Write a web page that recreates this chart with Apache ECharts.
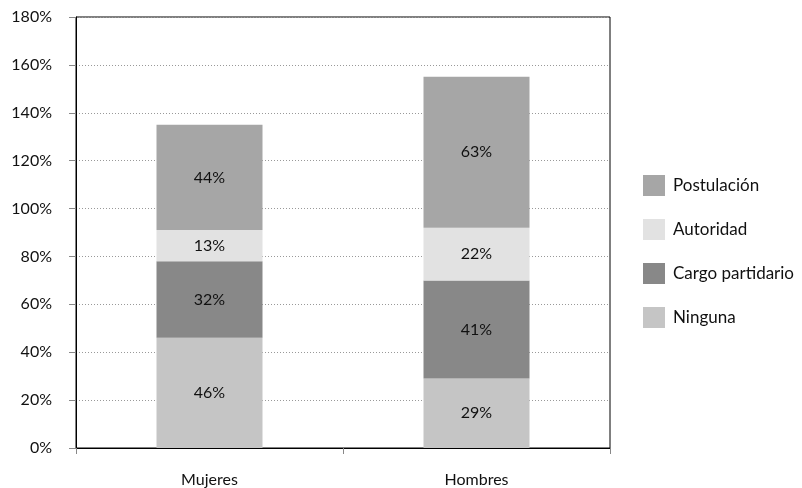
<!DOCTYPE html>
<html>
<head>
<meta charset="utf-8">
<script src="https://cdn.jsdelivr.net/npm/echarts@6/dist/echarts.min.js"></script>
<style>
  html, body { margin: 0; padding: 0; background: #fff; }
  #chart { width: 802px; height: 488px; }
</style>
</head>
<body>
<div id="chart"></div>
<script>
// Categories and stacked percentages (bottom to top)
const categories = ['Mujeres', 'Hombres'];
const ninguna = [46, 29];
const cargoPartidario = [32, 41];
const autoridad = [13, 22];
const postulacion = [44, 63];
const yTicks = [0, 20, 40, 60, 80, 100, 120, 140, 160, 180];

const FONT = 'Lato, "Open Sans", sans-serif';

function seg(name, data, color) {
  return {
    name: name,
    type: 'bar',
    stack: 'total',
    data: data,
    barWidth: 106,
    itemStyle: { color: color },
    label: {
      show: true,
      position: 'inside',
      formatter: p => p.value + '%',
      color: '#111',
      fontFamily: FONT,
      fontSize: 16
    }
  };
}

const chart = echarts.init(document.getElementById('chart'), null, { renderer: 'canvas' });
chart.setOption({
  animation: false,
  grid: {
    left: 76, right: 192, top: 17, bottom: 39,
    show: true, borderColor: '#000', borderWidth: 1, backgroundColor: 'transparent'
  },
  legend: {
    orient: 'vertical',
    left: 643,
    top: 175,
    padding: 0,
    itemWidth: 22,
    itemHeight: 21,
    itemGap: 23,
    icon: 'rect',
    data: ['Postulación', 'Autoridad', 'Cargo partidario', 'Ninguna'],
    textStyle: { fontFamily: FONT, fontSize: 17, color: '#111', padding: [0, 0, 0, 3] }
  },
  xAxis: {
    type: 'category',
    data: categories,
    axisLine: { lineStyle: { color: '#000', width: 1 } },
    axisTick: { show: true, length: 6, lineStyle: { color: '#888' } },
    axisLabel: { fontFamily: FONT, fontSize: 16, color: '#111', margin: 24 }
  },
  yAxis: {
    type: 'value',
    min: yTicks[0],
    max: yTicks[yTicks.length - 1],
    interval: 20,
    axisLine: { show: true, lineStyle: { color: '#000', width: 1 } },
    axisTick: { show: true, length: 7, lineStyle: { color: '#888' } },
    axisLabel: { fontFamily: FONT, fontSize: 16, color: '#111', margin: 24, formatter: v => v + '%' },
    splitLine: { show: true, lineStyle: { color: '#999', type: [1, 2], width: 1 } }
  },
  series: [
    seg('Ninguna', ninguna, '#C5C5C5'),
    seg('Cargo partidario', cargoPartidario, '#888888'),
    seg('Autoridad', autoridad, '#E2E2E2'),
    seg('Postulación', postulacion, '#A6A6A6')
  ]
});
</script>
</body>
</html>
